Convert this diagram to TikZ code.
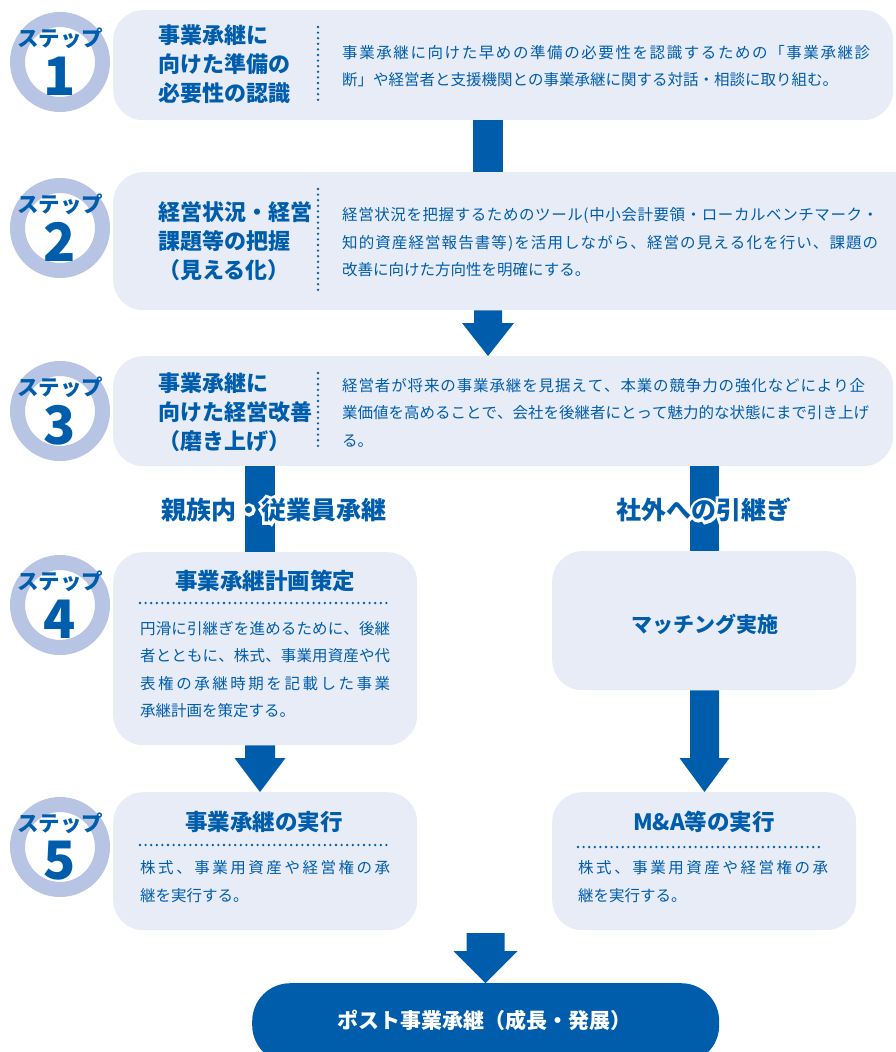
\documentclass[tikz,border=0pt]{standalone}
\usepackage{fontspec}
\setmainfont{Noto Sans CJK JP}
\newfontfamily\halofont{Noto Sans CJK JP}[BoldFeatures={FakeBold=24}]
\usetikzlibrary{calc}
\definecolor{mblue}{HTML}{005DAC}
\definecolor{boxc}{HTML}{E8ECF7}
\definecolor{ringc}{HTML}{B7C4E4}
% justified line: spread characters to a given width
\def\jlend{}
\def\jspread#1{#1\futurelet\jnext\jspreadcheck}
\def\jspreadcheck{\ifx\jnext\jlend\expandafter\jstop\else\hfill\expandafter\jspread\fi}
\def\jstop\jlend{}
\newcommand\jl[2]{\hbox to #1pt{\jspread#2\jlend}}
% text with a white outline
\newcommand\halotext[1]{\rlap{\halofont\bfseries\color{white}#1}#1}
% block arrow: x, from, to, shaft half width, head half width, head length
\newcommand\blockarrow[6]{%
  \path (#1,0 |- #2) coordinate (ba-top) (#1,0 |- #3) coordinate (ba-tip);
  \fill[mblue] ($(ba-top)+(-#4,0)$) -- ($(ba-top)+(#4,0)$) -- ($(ba-tip)+(#4,-#6)$)
    -- ($(ba-tip)+(#5,-#6)$) -- (ba-tip) -- ($(ba-tip)+(-#5,-#6)$) -- ($(ba-tip)+(-#4,-#6)$) -- cycle;}
\newcommand\blockbar[4]{%
  \fill[mblue] ($(#1,0 |- #2)+(-#4,0)$) rectangle ($(#1,0 |- #3)+(#4,0)$);}
\tikzset{
  box/.style={fill=boxc, rounded corners=30pt, inner sep=0pt, anchor=north west, draw=none},
  ring/.style={circle, draw=ringc, line width=15pt, fill=white, minimum size=85pt, inner sep=0pt},
  steplbl/.style={font=\fontsize{21.5}{22}\selectfont\bfseries, text=mblue, inner sep=0pt},
  stepnum/.style={font=\fontsize{53}{53}\selectfont\bfseries, text=mblue, inner sep=0pt},
  ttl/.style={font=\fontsize{22}{29}\selectfont\bfseries, text=mblue, align=left, anchor=west, inner sep=0pt},
  ttlc/.style={font=\fontsize{22.5}{29}\selectfont\bfseries, text=mblue, inner sep=0pt},
  body/.style={font=\fontsize{15.5}{27.5}\selectfont, text=mblue, align=left, anchor=west, inner sep=0pt},
  dots/.style={draw=mblue, line width=2.6pt, line cap=round, dash pattern=on 0pt off 5.6pt},
  lbl/.style={font=\fontsize{25}{25}\selectfont\bfseries, text=mblue, inner sep=0pt},
}
\begin{document}
\begin{tikzpicture}[x=1pt,y=-1pt]
\useasboundingbox (0,0) rectangle (895,1052);
% boxes
\node[box, minimum width=780pt, minimum height=110pt] (b1) at (113,10) {};
\node[box, minimum width=812pt, minimum height=138pt] (b2) at (113,172) {};
\node[box, minimum width=780pt, minimum height=110pt] (b3) at (113,356) {};
\node[box, minimum width=304pt, minimum height=193pt] (b4) at (113,552) {};
\node[box, minimum width=304pt, minimum height=139pt] (bm) at (552,551) {};
\node[box, minimum width=304pt, minimum height=138pt] (b5) at (113,792) {};
\node[box, minimum width=304pt, minimum height=138pt] (ba) at (552,792) {};
\node[box, fill=mblue, rounded corners=38pt, minimum width=467pt, minimum height=80pt] (bp) at (252,983) {};
% connectors
\blockbar{488}{b1.south}{b2.north}{15}
\blockarrow{488}{b2.south}{b3.north}{14}{26}{33}
\blockbar{260}{b3.south}{b4.north}{15}
\blockbar{704.5}{b3.south}{bm.north}{14.5}
\blockarrow{260}{b4.south}{b5.north}{15}{25.5}{34}
\blockarrow{704.5}{bm.south}{ba.north}{14.5}{25}{34}
\coordinate (merge) at (485.5,933);
\blockarrow{485.5}{merge}{bp.north}{19}{32}{32}
% step circles
\foreach \n/\cy in {1/62,2/228,3/411,4/605,5/847}{
  \node[ring] (c\n) at (60,\cy) {};
  \node[steplbl] (c\n a) at ($(c\n)+(0,-24)$) {ステップ};
  \node[stepnum] (c\n b) at ($(c\n)+(0,14)$) {\n};
}
% step 1
\node[ttl] (t1) at (158,64) {事業承継に\\向けた準備の\\必要性の認識};
\draw[dots] (318,27) -- (318,103);
\node[body] (d1) at (342,66) {\jl{528}{事業承継に向けた早めの準備の必要性を認識するための「事業承継診}\\断」や経営者と支援機関との事業承継に関する対話・相談に取り組む。};
% step 2
\node[ttl] (t2) at (158,241) {経営状況・経営\\課題等の把握\\（見える化）};
\draw[dots] (318,189) -- (318,293);
\node[body] (d2) at (342,242.5) {\jl{536}{経営状況を把握するためのツール(中小会計要領・ローカルベンチマーク・}\\\jl{536}{知的資産経営報告書等)を活用しながら、経営の見える化を行い、課題の}\\改善に向けた方向性を明確にする。};
% step 3
\node[ttl] (t3) at (158,412) {事業承継に\\向けた経営改善\\（磨き上げ）};
\draw[dots] (318,373) -- (318,449);
\node[body] (d3) at (342,412.5) {\jl{523}{経営者が将来の事業承継を見据えて、本業の競争力の強化などにより企}\\\jl{523}{業価値を高めることで、会社を後継者にとって魅力的な状態にまで引き上げ}\\る。};
% branch labels with white outline
\node[lbl] (lblL) at (274,510) {\halotext{親族内・従業員承継}};
\node[lbl] (lblR) at (704,510) {\halotext{社外への引継ぎ}};
% step 4
\node[ttlc] (t4) at (265,581) {事業承継計画策定};
\draw[dots] (140,603) -- (390,603);
\node[body] (d4) at (140,669.5) {\jl{250}{円滑に引継ぎを進めるために、後継}\\\jl{250}{者とともに、株式、事業用資産や代}\\\jl{250}{表権の承継時期を記載した事業}\\承継計画を策定する。};
% matching
\node[ttlc, font=\fontsize{21}{21}\selectfont\bfseries] (tm) at (704.5,624) {マッチング実施};
% step 5
\node[ttlc] (t5) at (264,822) {事業承継の実行};
\draw[dots] (140,845) -- (390,845);
\node[body] (d5) at (140,881.5) {\jl{250}{株式、事業用資産や経営権の承}\\継を実行する。};
% M&A
\node[ttlc] (ta) at (704,822) {M\&A等の実行};
\draw[dots] (578,847) -- (823,847);
\node[body] (da) at (578,881.5) {\jl{250}{株式、事業用資産や経営権の承}\\継を実行する。};
% bottom
\node[font=\fontsize{21}{21}\selectfont\bfseries, text=white, inner sep=0pt] (tp) at (484,1020) {ポスト事業承継（成長・発展）};
\end{tikzpicture}
\end{document}
